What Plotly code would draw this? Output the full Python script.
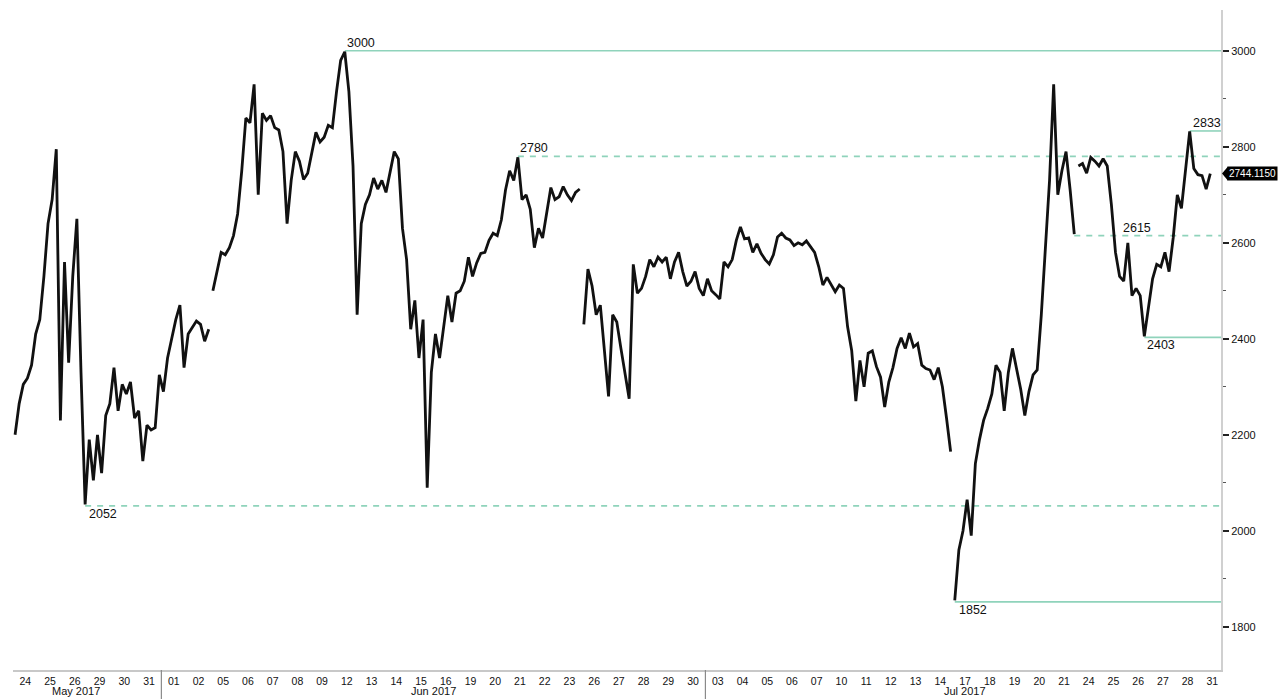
import plotly.graph_objects as go

# ---------------- data ----------------
SAMPLES_PER_SESSION = 6

may_sessions = ["2017-05-24", "2017-05-25", "2017-05-26", "2017-05-29", "2017-05-30", "2017-05-31"]
may_prices = [
    [2200, 2265, 2305, 2318, 2345, 2410],
    [2440, 2530, 2640, 2690, 2795, 2230],
    [2560, 2350, 2530, 2650, 2330, 2055],
    [2190, 2105, 2200, 2120, 2240, 2265],
    [2340, 2250, 2305, 2285, 2310, 2235],
    [2250, 2145, 2220, 2210, 2215, 2325],
]

jun_sessions = ["2017-06-01", "2017-06-02", "2017-06-05", "2017-06-06", "2017-06-07", "2017-06-08",
                "2017-06-09", "2017-06-12", "2017-06-13", "2017-06-14", "2017-06-15", "2017-06-16",
                "2017-06-19", "2017-06-20", "2017-06-21", "2017-06-22", "2017-06-23", "2017-06-26",
                "2017-06-27", "2017-06-28", "2017-06-29", "2017-06-30"]
jun_prices = [
    [2290, 2360, 2400, 2440, 2470, 2340],
    [2410, 2425, 2437, 2430, 2395, 2420],
    [2500, 2540, 2580, 2575, 2590, 2615],
    [2660, 2750, 2860, 2850, 2930, 2700],
    [2870, 2855, 2865, 2840, 2835, 2790],
    [2640, 2730, 2790, 2770, 2732, 2745],
    [2785, 2830, 2810, 2820, 2845, 2840],
    [2915, 2980, 2998, 2915, 2760, 2450],
    [2640, 2680, 2700, 2735, 2712, 2730],
    [2705, 2750, 2790, 2775, 2630, 2565],
    [2420, 2480, 2360, 2440, 2090, 2330],
    [2410, 2360, 2430, 2490, 2435, 2495],
    [2500, 2520, 2570, 2530, 2558, 2578],
    [2580, 2605, 2620, 2615, 2648, 2710],
    [2750, 2730, 2778, 2690, 2700, 2670],
    [2590, 2630, 2610, 2660, 2715, 2690],
    [2696, 2717, 2700, 2688, 2705, 2712],
    [2430, 2545, 2510, 2450, 2470, 2380],
    [2280, 2450, 2435, 2380, 2330, 2275],
    [2555, 2495, 2505, 2530, 2565, 2550],
    [2570, 2560, 2570, 2525, 2560, 2580],
    [2540, 2510, 2520, 2540, 2505, 2490],
]

jul_sessions = ["2017-07-03", "2017-07-04", "2017-07-05", "2017-07-06", "2017-07-07", "2017-07-10",
                "2017-07-11", "2017-07-12", "2017-07-13", "2017-07-14", "2017-07-17", "2017-07-18",
                "2017-07-19", "2017-07-20", "2017-07-21", "2017-07-24", "2017-07-25", "2017-07-26",
                "2017-07-27", "2017-07-28", "2017-07-31"]
jul_prices = [
    [2525, 2500, 2492, 2483, 2560, 2550],
    [2565, 2605, 2633, 2608, 2610, 2580],
    [2598, 2578, 2565, 2556, 2575, 2612],
    [2620, 2610, 2606, 2594, 2600, 2596],
    [2604, 2592, 2580, 2550, 2512, 2528],
    [2512, 2498, 2512, 2505, 2425, 2375],
    [2270, 2355, 2300, 2370, 2375, 2342],
    [2320, 2258, 2310, 2340, 2380, 2402],
    [2380, 2412, 2383, 2390, 2345, 2338],
    [2335, 2315, 2340, 2300, 2235, 2165],
    [1855, 1960, 2000, 2065, 1990, 2140],
    [2190, 2230, 2255, 2285, 2345, 2330],
    [2250, 2330, 2380, 2340, 2295, 2240],
    [2290, 2325, 2335, 2450, 2600, 2730],
    [2930, 2700, 2750, 2790, 2710, 2618],
    [2760, 2765, 2745, 2778, 2770, 2760],
    [2775, 2760, 2680, 2580, 2530, 2520],
    [2600, 2490, 2505, 2490, 2405, 2470],
    [2525, 2555, 2550, 2580, 2540, 2610],
    [2700, 2672, 2755, 2832, 2755, 2742],
    [2740, 2712, 2744.115],
]

# sessions after which the price series is broken (weekend jumps)
gap_after = ["2017-06-02", "2017-06-23", "2017-07-14", "2017-07-21"]

# annotated levels
level_values = [3000, 2780, 2052, 1852, 2615, 2403, 2833]
level_sessions = ["2017-06-12", "2017-06-21", "2017-05-26", "2017-07-17", "2017-07-21", "2017-07-26", "2017-07-28"]
level_dash = ["solid", "dash", "dash", "solid", "dash", "solid", "solid"]
level_label_side = ["above", "above", "below", "below", "above", "below", "above"]
level_label_xshift = [0, 0, 2, 2, 47, 1, 1]

month_names = ["May 2017", "Jun 2017", "Jul 2017"]
y_ticks = [1800, 2000, 2200, 2400, 2600, 2800, 3000]

# ---------------- build series ----------------
sessions = may_sessions + jun_sessions + jul_sessions
prices = may_prices + jun_prices + jul_prices

xs, ys = [], []
for i, (s, day) in enumerate(zip(sessions, prices)):
    for k, v in enumerate(day):
        xs.append(i + (k + 0.5) / SAMPLES_PER_SESSION)
        ys.append(v)
    if s in gap_after:
        xs.append(i + 0.999)
        ys.append(None)

X_END = len(sessions) - 0.15
Y_RANGE = [1710, 3085]
LEVEL_COLOR = "#8fd3bb"
FONT = "Liberation Sans"

fig = go.Figure()
fig.add_trace(go.Scatter(x=xs, y=ys, mode="lines", connectgaps=False,
                         line=dict(color="#111111", width=2.8), hoverinfo="skip"))

shapes = []
annotations = []

# level lines + labels
for lvl, sess, dash, side, xsh in zip(level_values, level_sessions, level_dash,
                                      level_label_side, level_label_xshift):
    i = sessions.index(sess)
    day = prices[i]
    k = min(range(len(day)), key=lambda j: abs(day[j] - lvl))
    t0 = i + (k + 0.5) / SAMPLES_PER_SESSION
    shapes.append(dict(type="line", xref="x", yref="y", x0=t0, x1=X_END, y0=lvl, y1=lvl,
                       line=dict(color=LEVEL_COLOR, width=1.6,
                                 dash="6px,6px" if dash == "dash" else "solid"),
                       layer="below"))
    annotations.append(dict(x=t0, y=lvl, xref="x", yref="y", text=str(lvl), showarrow=False,
                            xanchor="left", yanchor="bottom" if side == "above" else "top",
                            xshift=xsh, yshift=-1 if side == "above" else 1,
                            font=dict(family=FONT, size=12.5, color="#111111")))

# month separators and labels
month_keys = ["05", "06", "07"]
for m, name in zip(month_keys, month_names):
    idx = [i for i, s in enumerate(sessions) if s[5:7] == m]
    first, last = idx[0], idx[-1] + 1
    if first > 0:
        shapes.append(dict(type="line", xref="x", yref="paper", x0=first, x1=first, y0=0, y1=-0.05,
                           line=dict(color="#8a8a8a", width=1.2), layer="above"))
    annotations.append(dict(x=(first + last) / 2, y=0, xref="x", yref="paper", text=name,
                            showarrow=False, yanchor="middle", yshift=-21,
                            xshift=-11 if m == "05" else 0,
                            font=dict(family=FONT, size=11, color="#111111")))

# last price tag
last_price = [v for v in ys if v is not None][-1]
px_to_paper = 1.0 / 1208.0
shapes.append(dict(type="path", xref="paper", yref="y",
                   path=f"M {1 + 1 * px_to_paper} {last_price} L {1 + 7 * px_to_paper} {last_price + 15} "
                        f"L {1 + 7 * px_to_paper} {last_price - 15} Z",
                   fillcolor="#000000", line=dict(width=0), layer="above"))
annotations.append(dict(x=1, y=last_price, xref="paper", yref="y", text=f"{last_price:.4f}",
                        showarrow=False, xanchor="left", yanchor="middle", xshift=6,
                        bgcolor="#000000", borderpad=1,
                        font=dict(family=FONT, size=10, color="#ffffff")))

fig.update_layout(
    width=1280, height=699,
    margin=dict(l=13, r=59, t=10, b=29),
    paper_bgcolor="white", plot_bgcolor="white",
    showlegend=False,
    shapes=shapes, annotations=annotations,
    xaxis=dict(range=[0, X_END], showgrid=False, zeroline=False,
               tickmode="array", tickvals=[i + 0.5 for i in range(len(sessions))],
               ticktext=[s[-2:] for s in sessions], ticks="",
               tickfont=dict(family=FONT, size=10.5, color="#111111"),
               showline=True, linecolor="#c8c8c8", linewidth=2),
    yaxis=dict(range=Y_RANGE, side="right", showgrid=False, zeroline=False,
               tickmode="array", tickvals=y_ticks, ticktext=[str(v) for v in y_ticks],
               ticks="outside", ticklen=6, tickwidth=2, tickcolor="#222222",
               minor=dict(tickmode="linear", tick0=1700, dtick=100, ticks="outside",
                          ticklen=3, tickwidth=1, tickcolor="#555555"),
               tickfont=dict(family=FONT, size=11, color="#111111"),
               showline=True, linecolor="#d0d0d0", linewidth=2),
)

fig.write_html("out.html", config={"displayModeBar": False},
               post_script="document.body.style.margin='0';document.body.style.overflow='hidden';")
